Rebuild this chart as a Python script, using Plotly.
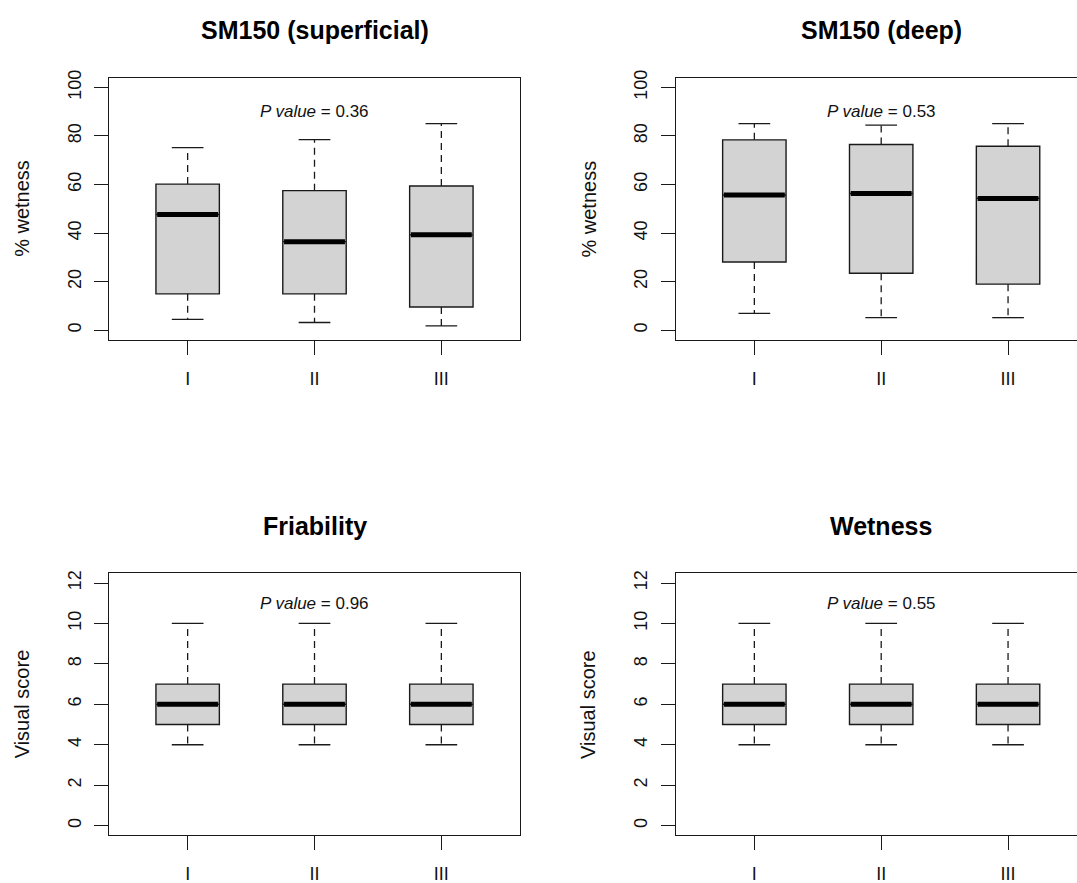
import plotly.graph_objects as go

# ---------------- data ----------------
categories = ["I", "II", "III"]
cat_pos = [1, 2, 3]

titles = ["SM150 (superficial)", "SM150 (deep)", "Friability", "Wetness"]
y_titles = ["% wetness", "% wetness", "Visual score", "Visual score"]
p_values = ["0.36", "0.53", "0.96", "0.55"]
p_label_y = [90, 90, 11, 11]

sup_lower = [4.5, 3.2, 1.8]
sup_q1 = [15.0, 15.0, 9.6]
sup_median = [47.7, 36.5, 39.3]
sup_q3 = [60.2, 57.5, 59.4]
sup_upper = [75.2, 78.5, 85.1]

deep_lower = [7.0, 5.2, 5.2]
deep_q1 = [28.1, 23.5, 19.0]
deep_median = [55.7, 56.3, 54.3]
deep_q3 = [78.4, 76.5, 75.8]
deep_upper = [85.1, 84.5, 85.1]

fri_lower = [4, 4, 4]
fri_q1 = [5, 5, 5]
fri_median = [6, 6, 6]
fri_q3 = [7, 7, 7]
fri_upper = [10, 10, 10]

wet_lower = [4, 4, 4]
wet_q1 = [5, 5, 5]
wet_median = [6, 6, 6]
wet_q3 = [7, 7, 7]
wet_upper = [10, 10, 10]

pct_ticks = [0, 20, 40, 60, 80, 100]
score_ticks = [0, 2, 4, 6, 8, 10, 12]

panels = [
    (sup_lower, sup_q1, sup_median, sup_q3, sup_upper),
    (deep_lower, deep_q1, deep_median, deep_q3, deep_upper),
    (fri_lower, fri_q1, fri_median, fri_q3, fri_upper),
    (wet_lower, wet_q1, wet_median, wet_q3, wet_upper),
]

# ---------------- layout geometry ----------------
W, H = 1077, 883
FONT = "Arial, Liberation Sans, sans-serif"
LINE = "#1a1a1a"
TXT = "#111111"
BOX_W = 0.5
CAP_W = 0.25

# pixel geometry (left, right, top, bottom) of each plot frame
frames = [
    (109, 520, 77.7, 340),
    (675.7, 1077, 77.7, 340),
    (109, 520, 573.3, 835.3),
    (675.7, 1077, 573.3, 835.3),
]
px_per_unit = (520 - 109) / 3.24
x_ranges = [
    [0.38, 3.62],
    [0.38, 0.38 + (1077 - 675.7) / px_per_unit],
    [0.38, 3.62],
    [0.38, 0.38 + (1077 - 675.7) / px_per_unit],
]
y_ranges = [[-4, 104], [-4, 104], [-0.48, 12.48], [-0.48, 12.48]]
y_tickvals = [pct_ticks, pct_ticks, score_ticks, score_ticks]

fig = go.Figure()
layout = dict(
    template="none",
    width=W, height=H,
    margin=dict(l=0, r=0, t=0, b=0, pad=0, autoexpand=False),
    paper_bgcolor="white", plot_bgcolor="white",
    showlegend=False,
    font=dict(family=FONT, color=TXT),
)
annotations = []

for i, (lo, q1, med, q3, up) in enumerate(panels):
    n = "" if i == 0 else str(i + 1)
    xa, ya = "x" + n, "y" + n
    left, right, top, bottom = frames[i]
    cropped = right >= W
    layout["xaxis" + n] = dict(
        domain=[left / W, right / W],
        range=x_ranges[i], anchor=ya, automargin=False,
        tickvals=cat_pos, ticktext=categories,
        ticks="outside", ticklen=14, tickwidth=1.3, tickcolor=LINE,
        showline=True, linecolor=LINE, linewidth=1.3, mirror=True,
        showgrid=False, zeroline=False, fixedrange=True,
        tickfont=dict(size=18, family=FONT, color=TXT),
        ticklabelstandoff=8,
    )
    layout["yaxis" + n] = dict(
        domain=[1 - bottom / H, 1 - top / H],
        range=y_ranges[i], anchor=xa, automargin=False,
        tickvals=y_tickvals[i],
        ticks="outside", ticklen=14, tickwidth=1.3, tickcolor=LINE,
        showline=True, linecolor=LINE, linewidth=1.3,
        mirror=False if cropped else True,
        showgrid=False, zeroline=False, fixedrange=True,
        tickangle=-90,
        tickfont=dict(size=18, family=FONT, color=TXT),
        ticklabelstandoff=6,
    )

    # box bodies
    fig.add_trace(go.Box(
        x=cat_pos, q1=q1, median=med, q3=q3,
        lowerfence=q1, upperfence=q3,
        width=BOX_W, fillcolor="#d3d3d3",
        line=dict(color=LINE, width=1.4),
        boxpoints=False, hoverinfo="skip",
        xaxis=xa, yaxis=ya,
    ))

    # dashed whiskers
    wx, wy = [], []
    for k, c in enumerate(cat_pos):
        wx += [c, c, None, c, c, None]
        wy += [q3[k], up[k], None, q1[k], lo[k], None]
    fig.add_trace(go.Scatter(
        x=wx, y=wy, mode="lines",
        line=dict(color=LINE, width=1.3, dash="7px,5px"),
        hoverinfo="skip", xaxis=xa, yaxis=ya,
    ))

    # whisker caps
    cx, cy = [], []
    for k, c in enumerate(cat_pos):
        cx += [c - CAP_W / 2, c + CAP_W / 2, None, c - CAP_W / 2, c + CAP_W / 2, None]
        cy += [up[k], up[k], None, lo[k], lo[k], None]
    fig.add_trace(go.Scatter(
        x=cx, y=cy, mode="lines",
        line=dict(color=LINE, width=1.3),
        hoverinfo="skip", xaxis=xa, yaxis=ya,
    ))

    # thick medians
    mx, my = [], []
    for k, c in enumerate(cat_pos):
        mx += [c - BOX_W / 2 + 0.01, c + BOX_W / 2 - 0.01, None]
        my += [med[k], med[k], None]
    fig.add_trace(go.Scatter(
        x=mx, y=my, mode="lines",
        line=dict(color="black", width=5),
        hoverinfo="skip", xaxis=xa, yaxis=ya,
    ))

    # panel title
    full_right = left + 3.24 * px_per_unit
    annotations.append(dict(
        text="<b>%s</b>" % titles[i],
        xref="paper", yref="paper",
        x=((left + full_right) / 2) / W, y=1 - (top - 47.5) / H,
        xanchor="center", yanchor="middle", showarrow=False,
        font=dict(size=25, family=FONT, color="black"),
    ))
    # y-axis title
    annotations.append(dict(
        text=y_titles[i], textangle=-90,
        xref="paper", yref="paper",
        x=(left - 87) / W, y=1 - ((top + bottom) / 2) / H,
        xanchor="center", yanchor="middle", showarrow=False,
        font=dict(size=20, family=FONT, color=TXT),
    ))
    # p-value
    annotations.append(dict(
        text="<i>P value</i> = %s" % p_values[i],
        xref=xa, yref=ya, x=cat_pos[1], y=p_label_y[i],
        xanchor="center", yanchor="middle", showarrow=False,
        font=dict(size=17, family=FONT, color=TXT),
    ))

layout["annotations"] = annotations
fig.update_layout(**layout)
fig.write_html("out.html")
